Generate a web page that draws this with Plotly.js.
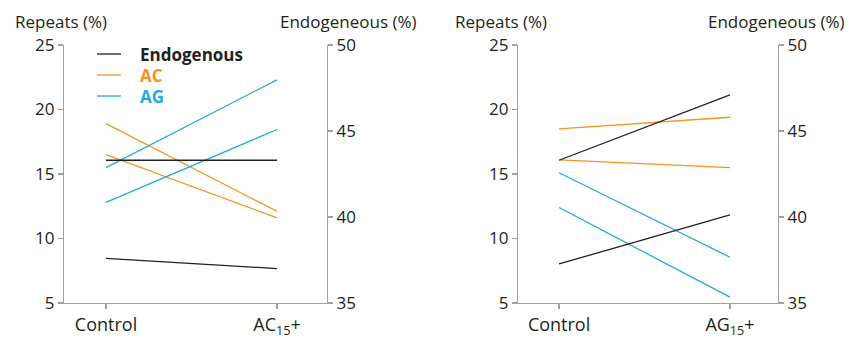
<!DOCTYPE html>
<html>
<head>
<meta charset="utf-8">
<script src="https://cdn.plot.ly/plotly-3.0.1.min.js"></script>
<style>html,body{margin:0;padding:0;background:#fff;}</style>
</head>
<body>
<div id="chart" style="width:848px;height:338px;"></div>
<script>
// Categories
const categoriesAC = ["Control", "AC<sub>15</sub>+"];
const categoriesAG = ["Control", "AG<sub>15</sub>+"];

// Series names
const seriesNames = ["Endogenous", "AC", "AG"];

// Panel 1 (AC15+) — Repeats (%) on left axis, Endogenous (%) on right axis
const p1_endo1 = [43.3, 43.3];
const p1_endo2 = [37.6, 37.0];
const p1_ac1 = [18.9, 12.1];
const p1_ac2 = [16.5, 11.6];
const p1_ag1 = [15.5, 22.3];
const p1_ag2 = [12.8, 18.45];

// Panel 2 (AG15+)
const p2_endo1 = [43.3, 47.1];
const p2_endo2 = [37.27, 40.13];
const p2_ac1 = [18.5, 19.4];
const p2_ac2 = [16.1, 15.5];
const p2_ag1 = [15.1, 8.55];
const p2_ag2 = [12.4, 5.45];

// Axis ticks
const repeatTicks = [5, 10, 15, 20, 25];
const endoTicks = [35, 40, 45, 50];

const cBlack = "#231f20", cOrange = "#f7931e", cBlue = "#1eaae7";
const seriesColors = [cBlack, cOrange, cBlue];
const xIdx = [0, 1];

function tr(y, xa, ya, color) {
  return {x: xIdx, y: y, xaxis: xa, yaxis: ya, type: "scatter", mode: "lines",
    line: {color: color, width: 1.3}, showlegend: false, hoverinfo: "skip"};
}

const data = [
  tr(p1_endo1, "x", "y2", cBlack),
  tr(p1_endo2, "x", "y2", cBlack),
  tr(p1_ac1, "x", "y", cOrange),
  tr(p1_ac2, "x", "y", cOrange),
  tr(p1_ag1, "x", "y", cBlue),
  tr(p1_ag2, "x", "y", cBlue),
  tr(p2_endo1, "x2", "y4", cBlack),
  tr(p2_endo2, "x2", "y4", cBlack),
  tr(p2_ac1, "x2", "y3", cOrange),
  tr(p2_ac2, "x2", "y3", cOrange),
  tr(p2_ag1, "x2", "y3", cBlue),
  tr(p2_ag2, "x2", "y3", cBlue)
];

const font = {family: "Open Sans, Noto Sans, sans-serif", size: 16, color: "#231f20"};
const axCol = "#a0a0a0";

function yAxis(side, ticks, range, extra) {
  return Object.assign({
    range: range, tickvals: ticks, ticktext: ticks.map(String), side: side,
    showgrid: false, zeroline: false, showline: true, linecolor: axCol, linewidth: 1.2,
    ticks: "outside", ticklen: 5, tickcolor: axCol, tickwidth: 1.2,
    tickfont: {size: 17}, fixedrange: true
  }, extra);
}
function xAxis(domain, labels, range, anchor) {
  return {
    domain: domain, anchor: anchor, range: range, tickvals: xIdx, ticktext: labels,
    showgrid: false, zeroline: false, showline: true, linecolor: axCol, linewidth: 1.2,
    ticks: "outside", ticklen: 5, tickcolor: axCol, tickwidth: 1.2,
    tickfont: {size: 18}, fixedrange: true
  };
}

// Legend (drawn with annotations + short line shapes in paper space)
const legY = [0.9651, 0.8837, 0.8023];
const legendAnn = seriesNames.map((n, i) => ({
  text: "<b>" + n + "</b>", xref: "paper", yref: "paper",
  x: 0.1036, y: legY[i], xanchor: "left", yanchor: "middle", showarrow: false,
  font: {size: 17, color: seriesColors[i]}
}));
const legendShapes = seriesNames.map((n, i) => ({
  type: "line", xref: "paper", yref: "paper", x0: 0.0462, x1: 0.0798, y0: legY[i], y1: legY[i],
  line: {color: seriesColors[i], width: 1.3}
}));

const titleFont = {size: 17};
const titleY = 1.093;
const layout = {
  width: 848, height: 338,
  margin: {l: 64, r: 70, t: 45, b: 35},
  paper_bgcolor: "#fff", plot_bgcolor: "#fff",
  font: font,
  showlegend: false,
  xaxis: xAxis([0, 0.3683], categoriesAC, [-0.2456, 1.292], "y"),
  xaxis2: xAxis([0.6359, 1], categoriesAG, [-0.24, 1.281], "y3"),
  yaxis: yAxis("left", repeatTicks, [5, 25], {anchor: "x"}),
  yaxis2: yAxis("right", endoTicks, [35, 50], {anchor: "x", overlaying: "y"}),
  yaxis3: yAxis("left", repeatTicks, [5, 25], {anchor: "x2"}),
  yaxis4: yAxis("right", endoTicks, [35, 50], {anchor: "x2", overlaying: "y3"}),
  shapes: legendShapes,
  annotations: [
    {text: "Repeats (%)", xref: "paper", yref: "paper", x: -0.0714, y: titleY, xanchor: "left", yanchor: "middle", showarrow: false, font: titleFont},
    {text: "Endogeneous (%)", xref: "paper", yref: "paper", x: 0.2997, y: titleY, xanchor: "left", yanchor: "middle", showarrow: false, font: titleFont},
    {text: "Repeats (%)", xref: "paper", yref: "paper", x: 0.5448, y: titleY, xanchor: "left", yanchor: "middle", showarrow: false, font: titleFont},
    {text: "Endogeneous (%)", xref: "paper", yref: "paper", x: 1.0966, y: titleY, xanchor: "right", yanchor: "middle", showarrow: false, font: titleFont}
  ].concat(legendAnn)
};

Plotly.newPlot("chart", data, layout, {displayModeBar: false, staticPlot: true});
</script>
</body>
</html>
